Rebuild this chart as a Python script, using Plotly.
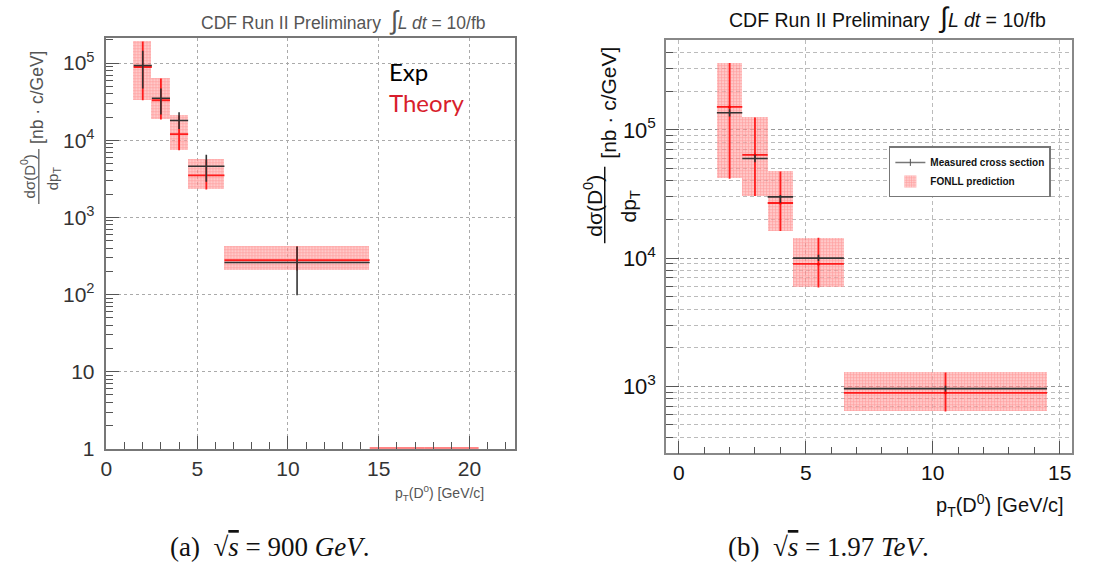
import numpy as np
import plotly.graph_objects as go

# pT bins of the D0 cross-section measurement [GeV/c]
bin_lo = np.array([1.5, 2.5, 3.5, 4.5, 6.5])
bin_hi = np.array([2.5, 3.5, 4.5, 6.5, 14.5])
pt = np.array([2.0, 3.0, 4.0, 5.5, 10.5])

# sqrt(s) = 900 GeV : measurement and theory [nb c/GeV]
exp_900 = np.array([9.3e4, 3.5e4, 1.8e4, 4.6e3, 2.6e2])
exp_900_hi = np.array([1.45e5, 4.7e4, 2.3e4, 6.5e3, 4.2e2])
exp_900_lo = np.array([4.7e4, 2.15e4, 1.4e4, 2.9e3, 98.0])
th_900 = np.array([8.9e4, 3.3e4, 1.2e4, 3.5e3, 2.8e2])
th_900_hi = np.array([1.9e5, 6.3e4, 2.1e4, 5.6e3, 4.2e2])
th_900_lo = np.array([3.3e4, 1.86e4, 7.4e3, 2.3e3, 2.05e2])
# theory bins beyond the measured range (sit on the axis floor)
tail_lo = np.array([14.5, 17.5])
tail_hi = np.array([17.5, 20.5])
th_900_tail = np.array([1.0, 1.0])

# sqrt(s) = 1.97 TeV : measurement and FONLL prediction [nb c/GeV]
exp_197 = np.array([1.36e5, 5.98e4, 3.0e4, 1.0e4, 960.0])
exp_197_hi = np.array([1.45e5, 6.4e4, 3.1e4, 1.06e4, 1010.0])
exp_197_lo = np.array([1.27e5, 5.6e4, 2.7e4, 0.95e4, 910.0])
th_197 = np.array([1.51e5, 6.38e4, 2.69e4, 9.0e3, 890.0])
th_197_hi = np.array([3.32e5, 1.25e5, 4.73e4, 1.44e4, 1.28e3])
th_197_lo = np.array([4.16e4, 3.05e4, 1.63e4, 5.9e3, 637.0])

W, H = 1102, 572


def px(x):
    return x / W


def py(y):
    return 1 - y / H


SANS = "Liberation Sans, Arial, sans-serif"
SERIF = "Liberation Serif, Times New Roman, serif"
RED = "rgba(255,20,20,0.95)"
BOXFILL = "rgba(255,165,165,0.6)"
HATCH = dict(shape="+", fgcolor="rgba(255,60,60,0.7)", bgcolor=BOXFILL,
             size=3, solidity=0.35)

fig = go.Figure()


def add_panel(xa, ya, lo, hi, x, exp, ehi, elo, th, thi, tlo, dot, legend):
    cen = (lo + hi) / 2
    # theory uncertainty boxes
    fig.add_trace(go.Bar(
        x=cen, y=thi - tlo, base=tlo, width=hi - lo,
        marker=dict(color=BOXFILL, line=dict(width=0), pattern=HATCH),
        xaxis=xa, yaxis=ya, name="<b>FONLL prediction</b>", showlegend=legend,
        legendrank=2, hoverinfo="skip"))
    # theory central values
    fig.add_trace(go.Scatter(
        x=x, y=th, mode="markers",
        marker=dict(size=max(dot, 2), color="red", opacity=1 if dot else 0),
        error_x=dict(type="data", symmetric=False, array=hi - x, arrayminus=x - lo,
                     width=0, color=RED, thickness=1.8),
        error_y=dict(type="data", symmetric=False, array=thi - th, arrayminus=th - tlo,
                     width=0, color=RED, thickness=1.8),
        xaxis=xa, yaxis=ya, showlegend=False, hoverinfo="skip"))
    # measurement
    fig.add_trace(go.Scatter(
        x=x, y=exp, mode="markers",
        marker=dict(size=2, color="#333", opacity=0.8 if legend else 0),
        error_x=dict(type="data", symmetric=False, array=hi - x, arrayminus=x - lo,
                     width=0, color="#333", thickness=1.6),
        error_y=dict(type="data", symmetric=False, array=ehi - exp, arrayminus=exp - elo,
                     width=0, color="#333", thickness=1.6),
        xaxis=xa, yaxis=ya, showlegend=False, hoverinfo="skip"))


add_panel("x", "y", bin_lo, bin_hi, pt, exp_900, exp_900_hi, exp_900_lo,
          th_900, th_900_hi, th_900_lo, 0, False)

# theory tail bins along the axis floor
tail_c = (tail_lo + tail_hi) / 2
fig.add_trace(go.Scatter(
    x=tail_c, y=th_900_tail, mode="markers", marker=dict(size=2, opacity=0),
    error_x=dict(type="data", array=tail_hi - tail_c, width=0,
                 color="rgba(255,120,120,0.9)", thickness=4),
    xaxis="x", yaxis="y", showlegend=False, cliponaxis=False, hoverinfo="skip"))

add_panel("x2", "y2", bin_lo, bin_hi, pt, exp_197, exp_197_hi, exp_197_lo,
          th_197, th_197_hi, th_197_lo, 3, True)

# legend entry for the measurement (line style key)
fig.add_trace(go.Scatter(
    x=[None], y=[None], mode="lines+markers", name="<b>Measured cross section</b>",
    line=dict(color="#777", width=1.5), marker=dict(symbol="line-ns", size=5,
                                                    line=dict(color="#555", width=1)),
    xaxis="x2", yaxis="y2", legendrank=1, showlegend=True))

left_major = [1, 10, 100, 1e3, 1e4, 1e5]
left_text = ["1", "10", "10<sup>2</sup>", "10<sup>3</sup>", "10<sup>4</sup>", "10<sup>5</sup>"]
left_minor = [k * 10 ** d for d in range(0, 6) for k in range(2, 10) if k * 10 ** d < 2.1e5]
right_major = [1e3, 1e4, 1e5]
right_text = ["10<sup>3</sup>", "10<sup>4</sup>", "10<sup>5</sup>"]
right_minor = [k * 10 ** d for d in range(2, 6) for k in range(2, 10) if 300 < k * 10 ** d < 5e5]

axis_common = dict(showline=True, mirror=True, zeroline=False, ticks="inside",
                   ticklen=13, tickwidth=1.2, tickcolor="#555")

fig.update_layout(
    width=W, height=H, margin=dict(l=0, r=0, t=0, b=0),
    paper_bgcolor="white", plot_bgcolor="white",
    barmode="overlay", bargap=0,
    xaxis=dict(domain=[px(101), px(511.7)], range=[0, 22.5], anchor="y",
               tickvals=[0, 5, 10, 15, 20], linecolor="#777", linewidth=1.5,
               showgrid=True, gridcolor="#aaa", griddash="dot", gridwidth=1,
               minor=dict(tickvals=[v for v in range(1, 23) if v % 5], ticks="inside",
                          ticklen=7, tickcolor="#555", showgrid=False),
               tickfont=dict(family=SANS, size=21, color="#333"), **axis_common),
    yaxis=dict(domain=[py(457.7), py(39)], type="log", range=[0, np.log10(2.1e5)],
               anchor="x", tickvals=left_major, ticktext=left_text,
               linecolor="#777", linewidth=1.5,
               showgrid=True, gridcolor="#aaa", griddash="dot", gridwidth=1,
               minor=dict(tickvals=left_minor, ticks="inside", ticklen=7,
                          tickcolor="#555", showgrid=False),
               tickfont=dict(family=SANS, size=21, color="#333"), ticklabelstandoff=6,
               **axis_common),
    xaxis2=dict(domain=[px(663.7), px(1072.3)], range=[-0.5, 15.5], anchor="y2",
                tickvals=[0, 5, 10, 15], linecolor="#888", linewidth=1.5,
                showgrid=True, gridcolor="#bbb", griddash="4px,3px", gridwidth=1,
                minor=dict(tickvals=[v for v in range(1, 15) if v % 5], ticks="inside",
                           ticklen=7, tickcolor="#555", showgrid=False),
                tickfont=dict(family=SANS, size=21, color="#111"), **axis_common),
    yaxis2=dict(domain=[py(462.3), py(41)], type="log",
                range=[np.log10(300), np.log10(5e5)], anchor="x2",
                tickvals=right_major, ticktext=right_text, linecolor="#888", linewidth=1.5,
                showgrid=True, gridcolor="#999", griddash="4px,3px", gridwidth=1,
                minor=dict(tickvals=right_minor, ticks="inside", ticklen=7,
                           tickcolor="#555", showgrid=True, gridcolor="#bbb",
                           griddash="4px,3px", gridwidth=1),
                tickfont=dict(family=SANS, size=22, color="#111"), ticklabelstandoff=4,
                **axis_common),
    legend=dict(x=px(887.7), y=py(149.3), xanchor="left", yanchor="top",
                bgcolor="white", bordercolor="#777", borderwidth=1.5,
                font=dict(family=SANS, size=10, color="#111"),
                tracegroupgap=12, traceorder="grouped", itemwidth=30),
    showlegend=True,
)

ann = []


def text(x, y, s, size, color="#111", family=SANS, angle=0, xanchor="center"):
    ann.append(dict(x=px(x), y=py(y), xref="paper", yref="paper", text=s,
                    showarrow=False, textangle=angle, xanchor=xanchor, yanchor="middle",
                    font=dict(family=family, size=size, color=color)))


INT = "<span style='font-size:{}px'>∫</span>"
NB = "\u00a0"
# panel titles
text(339, 20, "CDF Run II Preliminary  " + INT.format(26) + "<i>L dt</i> = 10/fb", 17.5, "#555")
text(886, 18, "CDF Run II Preliminary  " + INT.format(28) + "<i>L dt</i> = 10/fb", 19.5, "#111")

# panel a: y title as a fraction
text(22, 180, "dσ(D<sup>0</sup>)", 15, "#555", angle=-90)
text(48, 182, "dp<sub>T</sub>", 15, "#555", angle=-90)
text(31, 99, "[nb" + NB + "·" + NB + "c/GeV]", 17.5, "#555", angle=-90)
# panel b: y title as a fraction
text(590, 210, "dσ(D<sup>0</sup>)", 21, "#111", angle=-90)
text(627, 211, "dp<sub>T</sub>", 21, "#111", angle=-90)
text(606, 105, "[nb · c/GeV]", 21, "#111", angle=-90)

# x titles
text(436, 503, "p<sub>T</sub>(D<sup>0</sup>) [GeV/c]", 14, "#555")
text(999, 515, "p<sub>T</sub>(D<sup>0</sup>) [GeV/c]", 20, "#111")

# in-plot labels of panel a
text(383, 73, "Exp", 24, "#000", family="Lato, sans-serif", xanchor="left")
text(383, 104, "Theory", 24, "#d81e2c", family="Lato, sans-serif", xanchor="left")

# captions
SQ = "√<span style='text-decoration:overline'><i>s</i></span>"
text(265, 558, "(a)" + NB * 2 + SQ + NB + "=" + NB + "900" + NB + "<i>GeV</i>.",
     27, "#111", family=SERIF)
text(827, 558, "(b)" + NB * 2 + SQ + NB + "=" + NB + "1.97" + NB + "<i>TeV</i>.",
     27, "#111", family=SERIF)

fig.update_layout(annotations=ann)

# fraction bars of the y titles
fig.add_shape(type="line", xref="paper", yref="paper", x0=px(33), x1=px(33),
              y0=py(152), y1=py(208), line=dict(color="#555", width=1.2))
fig.add_shape(type="line", xref="paper", yref="paper", x0=px(602), x1=px(602),
              y0=py(170), y1=py(248), line=dict(color="#111", width=1.5))

fig.write_html("out.html")
